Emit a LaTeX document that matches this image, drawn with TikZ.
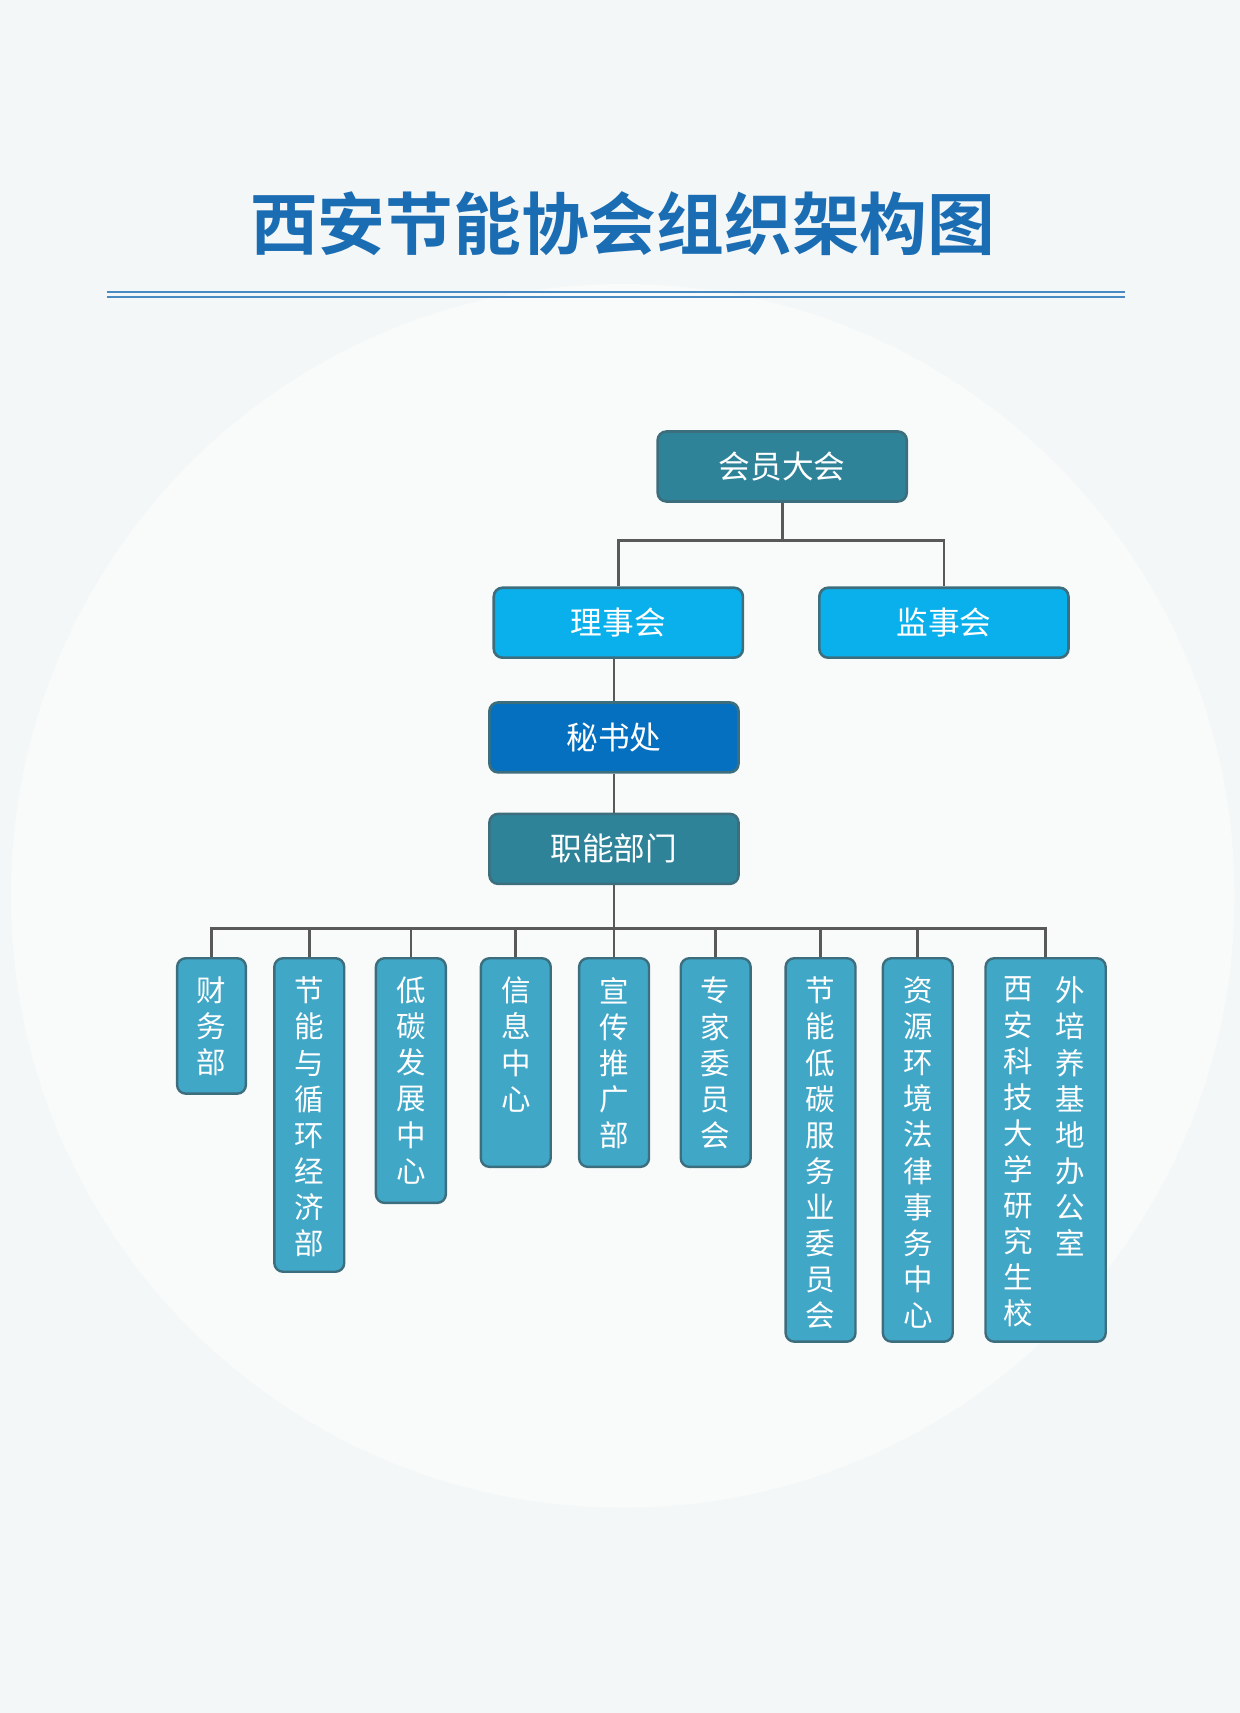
\documentclass[tikz,border=0pt]{standalone}
\usepackage{fontspec}
\newfontfamily\cjk{Noto Sans CJK SC}
\newfontfamily\cjkb{Noto Sans CJK SC Bold}
\definecolor{bg}{HTML}{F4F7F8}
\definecolor{teal}{HTML}{2F8399}
\definecolor{sky}{HTML}{0AB0EC}
\definecolor{blue}{HTML}{0570C0}
\definecolor{dept}{HTML}{41A7C7}
\definecolor{edge}{HTML}{3D6E7E}
\definecolor{ttl}{HTML}{1B6DB3}
\tikzset{
 topbox/.style={draw=edge,line width=1.2pt,rounded corners=4pt,minimum width=114pt,minimum height=32pt,text=white,font=\cjk\fontsize{14.5}{16}\selectfont},
 deptbox/.style={draw=edge,line width=1.1pt,rounded corners=4pt,fill=dept,anchor=north west,inner sep=0pt},
 vt/.style={text=white,align=center,font=\cjk\fontsize{13.5}{16.5}\selectfont,inner sep=0pt,anchor=north},
 conn/.style={draw=black!65,line width=1.2pt}
}
\begin{document}
\begin{tikzpicture}[x=0.5pt,y=-0.5pt]
\useasboundingbox (0,0) rectangle (1135,1568);
\fill[bg] (0,0) rectangle (1135,1568);
\begin{scope}
\clip (0,0) rectangle (1135,1568);
\fill[white!50!bg] (570,820) circle[radius=560];
\end{scope}
\node[font=\cjkb\fontsize{31}{34}\selectfont,text=ttl] (title) at (570,205) {西安节能协会组织架构图};
\draw[ttl!80,line width=1pt] (98,267) -- (1030,267) (98,272) -- (1030,272);
\node[topbox,fill=teal] (hy) at (716,427) {会员大会};
\node[topbox,fill=sky] (ls) at (566,570) {理事会};
\node[topbox,fill=sky] (js) at (864,570) {监事会};
\node[topbox,fill=blue] (ms) at (562,675) {秘书处};
\node[topbox,fill=teal] (zn) at (562,777) {职能部门};
\coordinate (j1) at (716,495);
\draw[conn] (hy.south) -- (j1) (ls.north) |- (j1) -| (js.north);
\draw[conn] (ms.north|-ls.south) -- (ms.north);
\draw[conn] (ms.south) -- (zn.north);
\coordinate (bar) at (562,850);
\foreach \n/\l/\r/\b in {d1/161/224/1000,d2/250/314/1163,d3/343/407/1100,d4/439/503/1067,d5/529/593/1067,d6/622/686/1067,d7/718/782/1227,d8/807/871/1227,d9/901/1011/1227}{
 \node[deptbox,minimum width={(\r-\l)*0.5pt},minimum height={(\b-876)*0.5pt}] (\n) at (\l,876) {};
}
\draw[conn] (zn.south) -- (bar);
\draw[conn] (d1.north) |- (bar) -| (d9.north);
\foreach \n in {d2,d3,d4,d5,d6,d7,d8}{\draw[conn] (\n.north) -- (\n.north|-bar);}
\node[vt] at ([yshift=-9pt]d1.north) {财\\务\\部};
\node[vt] at ([yshift=-9pt]d2.north) {节\\能\\与\\循\\环\\经\\济\\部};
\node[vt] at ([yshift=-9pt]d3.north) {低\\碳\\发\\展\\中\\心};
\node[vt] at ([yshift=-9pt]d4.north) {信\\息\\中\\心};
\node[vt] at ([yshift=-9pt]d5.north) {宣\\传\\推\\广\\部};
\node[vt] at ([yshift=-9pt]d6.north) {专\\家\\委\\员\\会};
\node[vt] at ([yshift=-9pt]d7.north) {节\\能\\低\\碳\\服\\务\\业\\委\\员\\会};
\node[vt] at ([yshift=-9pt]d8.north) {资\\源\\环\\境\\法\\律\\事\\务\\中\\心};
\node[vt] (d9a) at (980,894) {外\\培\\养\\基\\地\\办\\公\\室};
\node[vt] (d9b) at (932,894) {西\\安\\科\\技\\大\\学\\研\\究\\生\\校};
\end{tikzpicture}
\end{document}
